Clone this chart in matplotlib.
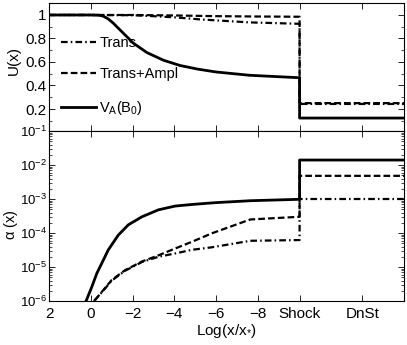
import numpy as np
import matplotlib
matplotlib.use("Agg")
import matplotlib.pyplot as plt
from matplotlib.ticker import LogLocator, NullFormatter, MultipleLocator

plt.rcParams['font.family'] = ['Liberation Sans', 'DejaVu Sans']
plt.rcParams['mathtext.fontset'] = 'custom'
plt.rcParams['mathtext.rm'] = 'Liberation Sans'
plt.rcParams['mathtext.it'] = 'Liberation Sans:italic'
plt.rcParams['mathtext.sf'] = 'Liberation Sans'
plt.rcParams['font.size'] = 10.5

# upstream coordinate Log(x/x*), shock at -10, downstream shown to the right
SHOCK = -10
x_right = 17   # axis position of right edge (position = 2 - Log(x/x*))

# ---- U(x), top panel ----
lx_va = [2, 0, -0.4, -0.6, -0.85, -1.08, -1.56, -2.04, -2.69, -3.48, -4.28, -5.1, -6, -7.6, -10]
u_va = [1, 1, 0.998, 0.99, 0.965, 0.93, 0.845, 0.76, 0.68, 0.615, 0.57, 0.54, 0.515, 0.487, 0.466]
u_va_down = 0.123

lx_tr = [2, 0, -2, -3, -4, -5.2, -7.6, -10]
u_tr = [1, 1, 0.998, 0.99, 0.98, 0.963, 0.937, 0.925]
u_tr_down = 0.243

lx_ta = [2, 0, -2, -4, -6, -8, -10]
u_ta = [1, 1, 1, 0.996, 0.99, 0.987, 0.985]
u_ta_down = 0.25

# ---- alpha(x), bottom panel ----
lx_a_va = [0.225, -0.05, -0.29, -0.53, -0.84, -1.32, -1.80, -2.45, -3.24, -4.04, -4.84, -5.96, -7.64, -10]
a_va = [1e-6, 2.6e-6, 6.5e-6, 1.3e-5, 3.2e-5, 8.7e-5, 1.74e-4, 3.0e-4, 4.8e-4, 6.2e-4, 6.9e-4, 7.8e-4, 8.9e-4, 9.8e-4]
a_va_down = 1.4e-2

lx_a_ta = [-0.21, -0.53, -1.01, -1.65, -2.45, -3.24, -4.04, -4.84, -5.80, -7.64, -10]
a_ta = [1.07e-6, 1.86e-6, 4.2e-6, 8.1e-6, 1.45e-5, 2.2e-5, 3.5e-5, 5.5e-5, 9.8e-5, 2.5e-4, 3.0e-4]
a_ta_down = 4.8e-3

lx_a_tr = [-0.15, -0.53, -1.01, -1.65, -2.45, -3.24, -4.04, -4.84, -5.80, -7.64, -10]
a_tr = [1.0e-6, 1.8e-6, 4.0e-6, 7.8e-6, 1.4e-5, 2.0e-5, 2.5e-5, 3.2e-5, 3.8e-5, 5.9e-5, 6.2e-5]
a_tr_down = 1.0e-3

tick_pos = [0, 2, 4, 6, 8, 10, 12, 15]
tick_lab = ['2', '0', '\u22122', '\u22124', '\u22126', '\u22128', 'Shock', 'DnSt']

DASH = (0, (3, 1.4))
DASHDOT = (0, (3, 1.4, 0.7, 1.4))


def build(lx, vals, down):
    pos = list(2 - np.array(lx, dtype=float))
    p_sh = 2 - SHOCK
    return np.array(pos + [p_sh, x_right]), np.array(list(vals) + [down, down])


def style(ax):
    ax.set_xlim(0, x_right)
    ax.set_xticks(tick_pos)
    ax.tick_params(direction='in', top=True, right=True, length=4, width=0.6, labelsize=11, pad=4)
    ax.tick_params(which='minor', direction='in', top=True, right=True, length=2, width=0.5)
    ax.tick_params(axis='y', pad=2)
    for s in ax.spines.values():
        s.set_linewidth(0.8)


fig = plt.figure(figsize=(4.07, 3.45), dpi=100)
L, W = 49 / 407, 355 / 407
ax1 = fig.add_axes([L, 1 - 131 / 345, W, 128 / 345])
ax2 = fig.add_axes([L, 1 - 301 / 345, W, 170 / 345])

lw = 1.6
ax1.plot(*build(lx_tr, u_tr, u_tr_down), color='k', lw=lw, ls=DASHDOT, label='Trans')
ax1.plot(*build(lx_ta, u_ta, u_ta_down), color='k', lw=lw, ls=DASH, label='Trans+Ampl')
ax1.plot(*build(lx_va, u_va, u_va_down), color='k', lw=2.0, ls='-',
         label=r'V$_\mathregular{A}$(B$_\mathregular{0}$)')
style(ax1)
ax1.set_ylim(0.0128, 1.102)
ax1.set_yticks([0.2, 0.4, 0.6, 0.8, 1.0])
ax1.set_yticklabels(['0.2', '0.4', '0.6', '0.8', '1'])
ax1.yaxis.set_minor_locator(MultipleLocator(0.1))
ax1.set_xticklabels([])
ax1.set_ylabel('U(x)', fontsize=11)
ax1.yaxis.set_label_coords(-0.08, 0.55)
ax1.legend(loc='upper left', bbox_to_anchor=(0.035, 0.745), frameon=False,
           borderpad=0, borderaxespad=0, handlelength=2.4, handletextpad=0.2,
           labelspacing=1.2, fontsize=10.5)

ax2.semilogy(*build(lx_a_tr, a_tr, a_tr_down), color='k', lw=lw, ls=DASHDOT)
ax2.semilogy(*build(lx_a_ta, a_ta, a_ta_down), color='k', lw=lw, ls=DASH)
ax2.semilogy(*build(lx_a_va, a_va, a_va_down), color='k', lw=2.0, ls='-')
style(ax2)
ax2.tick_params(axis='y', labelsize=9.5, pad=1.5)
ax2.set_ylim(1e-6, 1e-1)
ax2.yaxis.set_major_locator(LogLocator(base=10, numticks=10))
ax2.yaxis.set_minor_locator(LogLocator(base=10, subs=np.arange(2, 10), numticks=20))
ax2.yaxis.set_minor_formatter(NullFormatter())
ax2.set_xticklabels(tick_lab)
ax2.set_ylabel(r'$\mathregular{\alpha}$ (x)', fontsize=10.5)
ax2.yaxis.set_label_coords(-0.082, 0.45)
ax2.set_xlabel(r'Log(x/x$_\mathregular{*}$)', fontsize=11, labelpad=1)

fig.savefig('out.png', dpi=100)
